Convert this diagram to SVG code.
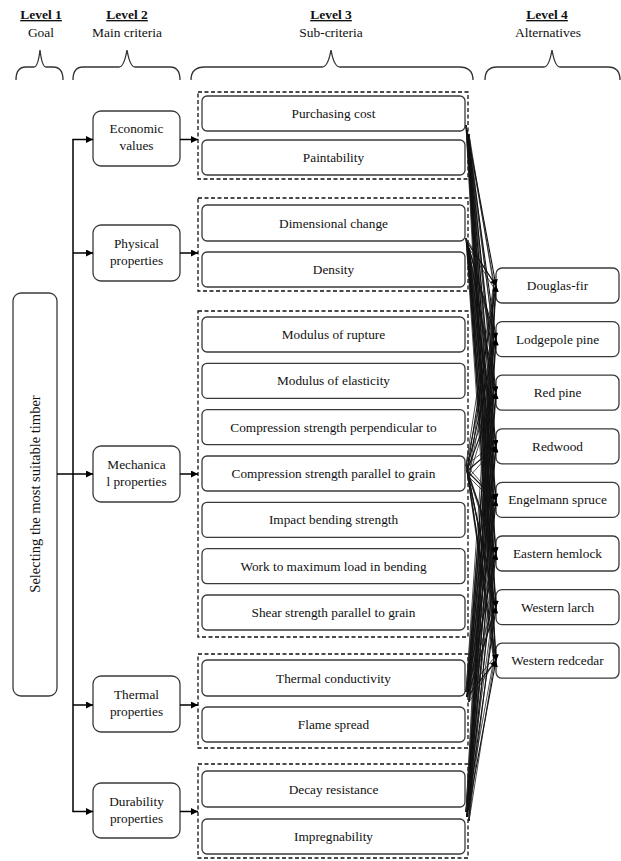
<svg xmlns="http://www.w3.org/2000/svg" width="621" height="861" viewBox="0 0 621 861" font-family="'Liberation Serif', 'DejaVu Serif', serif">
<style>
.t{font-family:'Liberation Serif','DejaVu Serif',serif;font-size:13.3px;fill:#111;text-anchor:middle}
.h{font-family:'Liberation Serif','DejaVu Serif',serif;font-size:13.5px;fill:#111;text-anchor:middle}
.u{text-decoration:underline;font-weight:bold}
.box{fill:#fff;stroke:#3a3a3a;stroke-width:1.3}
.grp{fill:none;stroke:#111;stroke-width:1.3;stroke-dasharray:4 2.5}
.brace{fill:none;stroke:#333;stroke-width:1.3}
.conn{stroke:#000;stroke-width:1.5;fill:none}
.fan{stroke:#111;stroke-width:1.1;fill:none}
.fan2{stroke:#222;stroke-width:0.8;fill:none}
</style>
<defs>
<marker id="ah" viewBox="0 0 10 10" refX="10" refY="5" markerWidth="8" markerHeight="7" markerUnits="userSpaceOnUse" orient="auto"><path d="M0,0 L10,5 L0,10 z" fill="#000"/></marker>
<marker id="fa" viewBox="0 0 10 10" refX="10" refY="5" markerWidth="7" markerHeight="6" markerUnits="userSpaceOnUse" orient="auto"><path d="M0,0 L10,5 L0,10 z" fill="#000"/></marker>
</defs>

<g id="headers">
<text class="h u" x="41" y="19">Level 1</text>
<text class="h" x="41" y="37">Goal</text>
<text class="h u" x="127" y="19">Level 2</text>
<text class="h" x="127" y="37">Main criteria</text>
<text class="h u" x="331" y="19">Level 3</text>
<text class="h" x="331" y="37">Sub-criteria</text>
<text class="h u" x="547" y="19">Level 4</text>
<text class="h" x="548" y="37">Alternatives</text>
<path class="brace" d="M16,80 Q16,67 26,67 L34,67 Q38,67 40,50 Q42,67 46,67 L53,67 Q63,67 63,80"/>
<path class="brace" d="M73,80 Q73,67 83,67 L119,67 Q124,67 127,50 Q130,67 135,67 L170,67 Q180,67 180,80"/>
<path class="brace" d="M191,80 Q191,67 205,67 L322,67 Q328,67 331,50 Q334,67 340,67 L459,67 Q473,67 473,80"/>
<path class="brace" d="M485,80 Q485,67 497,67 L544,67 Q549,67 552,50 Q555,67 560,67 L608,67 Q620,67 620,80"/>
</g>

<g id="goal">
<rect class="box" x="13" y="293" width="44" height="403" rx="8"/>
<text class="t" style="font-size:14.5px" transform="translate(40,494) rotate(-90)" x="0" y="0">Selecting the most suitable timber</text>
</g>

<g id="main-economic">
<rect class="box" x="93" y="111" width="87" height="55" rx="8"/>
<text class="t" x="136.5" y="133">Economic</text>
<text class="t" x="136.5" y="150">values</text>
</g>
<g id="main-physical">
<rect class="box" x="93" y="225" width="87" height="56" rx="8"/>
<text class="t" x="136.5" y="248">Physical</text>
<text class="t" x="136.5" y="265">properties</text>
</g>
<g id="main-mechanical">
<rect class="box" x="93" y="446" width="87" height="56" rx="8"/>
<text class="t" x="136.5" y="469">Mechanica</text>
<text class="t" x="136.5" y="486">l properties</text>
</g>
<g id="main-thermal">
<rect class="box" x="93" y="676" width="87" height="56" rx="8"/>
<text class="t" x="136.5" y="699">Thermal</text>
<text class="t" x="136.5" y="716">properties</text>
</g>
<g id="main-durability">
<rect class="box" x="93" y="783" width="87" height="55" rx="8"/>
<text class="t" x="136.5" y="806">Durability</text>
<text class="t" x="136.5" y="823">properties</text>
</g>

<g id="group-economic">
<rect class="grp" x="198" y="92" width="270" height="87"/>
<rect class="box" x="202" y="96" width="263" height="35" rx="5"/>
<text class="t" x="333.5" y="118">Purchasing cost</text>
<rect class="box" x="202" y="140" width="263" height="35" rx="5"/>
<text class="t" x="333.5" y="162">Paintability</text>
</g>
<g id="group-physical">
<rect class="grp" x="198" y="198" width="270" height="93"/>
<rect class="box" x="202" y="205" width="263" height="36" rx="5"/>
<text class="t" x="333.5" y="227.5">Dimensional change</text>
<rect class="box" x="202" y="252" width="263" height="35" rx="5"/>
<text class="t" x="333.5" y="274">Density</text>
</g>
<g id="group-mechanical">
<rect class="grp" x="198" y="311" width="270" height="326"/>
<rect class="box" x="202" y="317" width="263" height="35" rx="5"/>
<text class="t" x="333.5" y="339">Modulus of rupture</text>
<rect class="box" x="202" y="363.3" width="263" height="35" rx="5"/>
<text class="t" x="333.5" y="385.3">Modulus of elasticity</text>
<rect class="box" x="202" y="409.7" width="263" height="35" rx="5"/>
<text class="t" x="333.5" y="431.7">Compression strength perpendicular to</text>
<rect class="box" x="202" y="456" width="263" height="35" rx="5"/>
<text class="t" x="333.5" y="478">Compression strength parallel to grain</text>
<rect class="box" x="202" y="502.3" width="263" height="35" rx="5"/>
<text class="t" x="333.5" y="524.3">Impact bending strength</text>
<rect class="box" x="202" y="548.7" width="263" height="35" rx="5"/>
<text class="t" x="333.5" y="570.7">Work to maximum load in bending</text>
<rect class="box" x="202" y="595" width="263" height="35" rx="5"/>
<text class="t" x="333.5" y="617">Shear strength parallel to grain</text>
</g>
<g id="group-thermal">
<rect class="grp" x="198" y="654" width="270" height="94"/>
<rect class="box" x="202" y="660" width="263" height="36" rx="5"/>
<text class="t" x="333.5" y="682.5">Thermal conductivity</text>
<rect class="box" x="202" y="707" width="263" height="35" rx="5"/>
<text class="t" x="333.5" y="729">Flame spread</text>
</g>
<g id="group-durability">
<rect class="grp" x="198" y="764" width="270" height="94"/>
<rect class="box" x="202" y="771" width="263" height="36" rx="5"/>
<text class="t" x="333.5" y="793.5">Decay resistance</text>
<rect class="box" x="202" y="819" width="263" height="35" rx="5"/>
<text class="t" x="333.5" y="841">Impregnability</text>
</g>

<g id="alt-douglas-fir"><rect class="box" x="496" y="268" width="123" height="35" rx="6"/><text class="t" x="557.5" y="290">Douglas-fir</text></g>
<g id="alt-lodgepole-pine"><rect class="box" x="496" y="321.6" width="123" height="35" rx="6"/><text class="t" x="557.5" y="343.6">Lodgepole pine</text></g>
<g id="alt-red-pine"><rect class="box" x="496" y="375.2" width="123" height="35" rx="6"/><text class="t" x="557.5" y="397.2">Red pine</text></g>
<g id="alt-redwood"><rect class="box" x="496" y="428.8" width="123" height="35" rx="6"/><text class="t" x="557.5" y="450.8">Redwood</text></g>
<g id="alt-engelmann-spruce"><rect class="box" x="496" y="482.4" width="123" height="35" rx="6"/><text class="t" x="557.5" y="504.4">Engelmann spruce</text></g>
<g id="alt-eastern-hemlock"><rect class="box" x="496" y="536" width="123" height="35" rx="6"/><text class="t" x="557.5" y="558">Eastern hemlock</text></g>
<g id="alt-western-larch"><rect class="box" x="496" y="589.6" width="123" height="35" rx="6"/><text class="t" x="557.5" y="611.6">Western larch</text></g>
<g id="alt-western-redcedar"><rect class="box" x="496" y="643.2" width="123" height="35" rx="6"/><text class="t" x="557.5" y="665.2">Western redcedar</text></g>

<g id="connectors">
<path class="conn" d="M73,139.5 L73,811.5"/>
<line class="conn" x1="72.3" y1="139.5" x2="93" y2="139.5" marker-end="url(#ah)"/>
<line class="conn" x1="73" y1="253" x2="93" y2="253" marker-end="url(#ah)"/>
<line class="conn" x1="57" y1="474" x2="93" y2="474" marker-end="url(#ah)"/>
<line class="conn" x1="73" y1="705" x2="93" y2="705" marker-end="url(#ah)"/>
<line class="conn" x1="72.3" y1="811.5" x2="93" y2="811.5" marker-end="url(#ah)"/>
<line class="conn" x1="180" y1="139.5" x2="198" y2="139.5" marker-end="url(#ah)"/>
<line class="conn" x1="180" y1="253" x2="198" y2="253" marker-end="url(#ah)"/>
<line class="conn" x1="180" y1="474" x2="198" y2="474" marker-end="url(#ah)"/>
<line class="conn" x1="180" y1="705" x2="198" y2="705" marker-end="url(#ah)"/>
<line class="conn" x1="180" y1="811.5" x2="198" y2="811.5" marker-end="url(#ah)"/>

<g id="fan-extra">
<path class="fan2" d="M466,125 L494,283 M466,125 L494,337 M466,125 L494,390 M466,125 L494,444 M466,125 L494,497 M466,125 L494,551 M466,125 L494,604 M466,125 L494,658 M469,134 L494,288 M469,134 L494,342 M469,134 L494,395 M469,134 L494,449 M469,134 L494,502 M469,134 L494,556 M469,134 L494,610 M469,134 L494,663"/>
<path class="fan2" d="M466,238 L494,283 M466,238 L494,337 M466,238 L494,390 M466,238 L494,444 M466,238 L494,497 M466,238 L494,551 M466,238 L494,604 M466,238 L494,658 M469,248 L494,288 M469,248 L494,342 M469,248 L494,395 M469,248 L494,449 M469,248 L494,502 M469,248 L494,556 M469,248 L494,610 M469,248 L494,663"/>
<path class="fan2" d="M466,465 L494,283 M466,465 L494,337 M466,465 L494,390 M466,465 L494,444 M466,465 L494,497 M466,465 L494,551 M466,465 L494,604 M466,465 L494,658 M469,477 L494,288 M469,477 L494,342 M469,477 L494,395 M469,477 L494,449 M469,477 L494,502 M469,477 L494,556 M469,477 L494,610 M469,477 L494,663"/>
<path class="fan2" d="M466,692 L494,283 M466,692 L494,337 M466,692 L494,390 M466,692 L494,444 M466,692 L494,497 M466,692 L494,551 M466,692 L494,604 M466,692 L494,658 M469,702 L494,288 M469,702 L494,342 M469,702 L494,395 M469,702 L494,449 M469,702 L494,502 M469,702 L494,556 M469,702 L494,610 M469,702 L494,663"/>
<path class="fan2" d="M466,812 L494,283 M466,812 L494,337 M466,812 L494,390 M466,812 L494,444 M466,812 L494,497 M466,812 L494,551 M466,812 L494,604 M466,812 L494,658 M469,821 L494,288 M469,821 L494,342 M469,821 L494,395 M469,821 L494,449 M469,821 L494,502 M469,821 L494,556 M469,821 L494,610 M469,821 L494,663"/>
</g>

<g id="fan-economic">
<line class="fan" x1="467" y1="130" x2="496" y2="285.5" marker-end="url(#fa)"/>
<line class="fan" x1="467" y1="130" x2="496" y2="339.1" marker-end="url(#fa)"/>
<line class="fan" x1="467" y1="130" x2="496" y2="392.7" marker-end="url(#fa)"/>
<line class="fan" x1="467" y1="130" x2="496" y2="446.3" marker-end="url(#fa)"/>
<line class="fan" x1="467" y1="130" x2="496" y2="499.9" marker-end="url(#fa)"/>
<line class="fan" x1="467" y1="130" x2="496" y2="553.5" marker-end="url(#fa)"/>
<line class="fan" x1="467" y1="130" x2="496" y2="607.1" marker-end="url(#fa)"/>
<line class="fan" x1="467" y1="130" x2="496" y2="660.7" marker-end="url(#fa)"/>
</g>
<g id="fan-physical">
<line class="fan" x1="467" y1="242" x2="496" y2="285.5" marker-end="url(#fa)"/>
<line class="fan" x1="467" y1="242" x2="496" y2="339.1" marker-end="url(#fa)"/>
<line class="fan" x1="467" y1="242" x2="496" y2="392.7" marker-end="url(#fa)"/>
<line class="fan" x1="467" y1="242" x2="496" y2="446.3" marker-end="url(#fa)"/>
<line class="fan" x1="467" y1="242" x2="496" y2="499.9" marker-end="url(#fa)"/>
<line class="fan" x1="467" y1="242" x2="496" y2="553.5" marker-end="url(#fa)"/>
<line class="fan" x1="467" y1="242" x2="496" y2="607.1" marker-end="url(#fa)"/>
<line class="fan" x1="467" y1="242" x2="496" y2="660.7" marker-end="url(#fa)"/>
</g>
<g id="fan-mechanical">
<line class="fan" x1="467" y1="471" x2="496" y2="285.5" marker-end="url(#fa)"/>
<line class="fan" x1="467" y1="471" x2="496" y2="339.1" marker-end="url(#fa)"/>
<line class="fan" x1="467" y1="471" x2="496" y2="392.7" marker-end="url(#fa)"/>
<line class="fan" x1="467" y1="471" x2="496" y2="446.3" marker-end="url(#fa)"/>
<line class="fan" x1="467" y1="471" x2="496" y2="499.9" marker-end="url(#fa)"/>
<line class="fan" x1="467" y1="471" x2="496" y2="553.5" marker-end="url(#fa)"/>
<line class="fan" x1="467" y1="471" x2="496" y2="607.1" marker-end="url(#fa)"/>
<line class="fan" x1="467" y1="471" x2="496" y2="660.7" marker-end="url(#fa)"/>
</g>
<g id="fan-thermal">
<line class="fan" x1="467" y1="697" x2="496" y2="285.5" marker-end="url(#fa)"/>
<line class="fan" x1="467" y1="697" x2="496" y2="339.1" marker-end="url(#fa)"/>
<line class="fan" x1="467" y1="697" x2="496" y2="392.7" marker-end="url(#fa)"/>
<line class="fan" x1="467" y1="697" x2="496" y2="446.3" marker-end="url(#fa)"/>
<line class="fan" x1="467" y1="697" x2="496" y2="499.9" marker-end="url(#fa)"/>
<line class="fan" x1="467" y1="697" x2="496" y2="553.5" marker-end="url(#fa)"/>
<line class="fan" x1="467" y1="697" x2="496" y2="607.1" marker-end="url(#fa)"/>
<line class="fan" x1="467" y1="697" x2="496" y2="660.7" marker-end="url(#fa)"/>
</g>
<g id="fan-durability">
<line class="fan" x1="467" y1="817" x2="496" y2="285.5" marker-end="url(#fa)"/>
<line class="fan" x1="467" y1="817" x2="496" y2="339.1" marker-end="url(#fa)"/>
<line class="fan" x1="467" y1="817" x2="496" y2="392.7" marker-end="url(#fa)"/>
<line class="fan" x1="467" y1="817" x2="496" y2="446.3" marker-end="url(#fa)"/>
<line class="fan" x1="467" y1="817" x2="496" y2="499.9" marker-end="url(#fa)"/>
<line class="fan" x1="467" y1="817" x2="496" y2="553.5" marker-end="url(#fa)"/>
<line class="fan" x1="467" y1="817" x2="496" y2="607.1" marker-end="url(#fa)"/>
<line class="fan" x1="467" y1="817" x2="496" y2="660.7" marker-end="url(#fa)"/>
</g>
</g>
</svg>
